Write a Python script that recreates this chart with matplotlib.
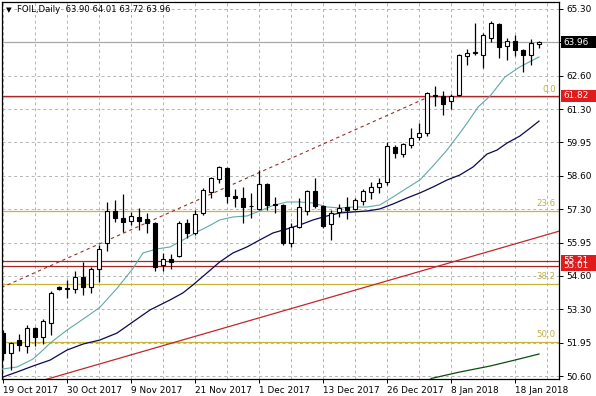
import numpy as np
import matplotlib
matplotlib.use("Agg")
import matplotlib.pyplot as plt
from matplotlib.patches import Rectangle
import matplotlib.transforms as mtransforms

plt.rcParams['font.family'] = ['DejaVu Sans']

# ---------------- data ----------------
OPEN = [52.32, 51.52, 52.04, 51.80, 52.52, 52.16, 52.72, 54.17, 54.11, 54.09,
        54.57, 54.17, 54.89, 55.93, 57.21, 56.93, 56.81, 56.97, 56.89, 56.73,
        55.05, 55.29, 55.41, 56.73, 56.33, 57.13, 57.97, 58.49, 58.93, 57.81,
        57.73, 57.39, 57.29, 58.29, 57.49, 57.45, 55.93, 56.57, 57.21, 58.01,
        57.41, 56.69, 57.17, 57.37, 57.29, 57.61, 57.97, 58.17, 58.37, 59.77,
        59.49, 59.85, 60.17, 60.33, 61.80, 61.82, 61.62, 61.86, 63.42, 63.52,
        63.46, 64.14, 64.70, 63.82, 64.02, 63.66, 63.46, 63.90]
HIGH = [52.44, 51.95, 52.28, 52.64, 52.56, 52.88, 54.01, 54.22, 54.45, 54.81,
        55.17, 54.97, 55.85, 57.57, 57.65, 57.89, 57.17, 57.33, 57.13, 56.78,
        55.53, 55.49, 56.81, 56.89, 57.25, 58.13, 58.57, 59.01, 58.97, 58.09,
        58.17, 57.93, 58.85, 58.33, 57.77, 57.49, 56.73, 57.73, 58.05, 58.53,
        57.45, 57.25, 57.49, 57.77, 57.73, 58.09, 58.37, 58.53, 59.97, 59.85,
        59.93, 60.53, 60.73, 61.98, 62.22, 62.02, 61.90, 63.49, 63.70, 64.74,
        64.34, 64.82, 64.72, 64.14, 64.26, 63.70, 64.10, 64.01]
LOW = [51.24, 50.84, 51.60, 51.52, 51.80, 51.88, 52.24, 54.05, 53.73, 53.93,
       53.85, 53.93, 54.37, 55.61, 56.77, 56.37, 56.65, 56.45, 56.33, 54.81,
       54.81, 54.89, 55.37, 56.13, 56.25, 57.05, 57.73, 58.33, 57.53, 57.37,
       56.73, 56.93, 57.25, 57.25, 57.13, 55.85, 55.77, 56.53, 57.05, 57.33,
       56.53, 56.05, 56.97, 56.89, 57.25, 57.45, 57.69, 57.93, 58.25, 59.33,
       59.37, 59.73, 60.05, 60.21, 61.40, 61.06, 61.30, 61.80, 63.06, 63.46,
       62.94, 63.98, 63.34, 63.26, 63.42, 62.78, 63.06, 63.72]
CLOSE = [51.52, 51.92, 51.84, 52.52, 52.16, 52.80, 53.93, 54.09, 54.07, 54.57,
         54.17, 54.89, 55.69, 57.21, 56.93, 56.77, 57.01, 56.81, 56.73, 54.97,
         55.29, 55.17, 56.73, 56.33, 57.09, 58.05, 58.53, 58.97, 57.81, 57.73,
         57.37, 57.41, 58.29, 57.45, 57.45, 55.93, 56.57, 57.37, 58.01, 57.41,
         56.61, 57.13, 57.33, 57.25, 57.65, 58.01, 58.17, 58.33, 59.81, 59.53,
         59.89, 60.13, 60.33, 61.94, 61.86, 61.50, 61.82, 63.45, 63.54, 63.56,
         64.26, 64.74, 63.78, 64.02, 63.66, 63.46, 63.94, 63.96]

DATE_LABELS = ["19 Oct 2017", "30 Oct 2017", "9 Nov 2017", "21 Nov 2017", "1 Dec 2017",
               "13 Dec 2017", "26 Dec 2017", "8 Jan 2018", "18 Jan 2018"]
DATE_BARS = [0, 8, 16, 24, 32, 40, 48, 56, 64]

# the 11th label sits under the last-price box and is not visible
Y_TICK_LABELS = ["50.60", "51.95", "53.30", "54.60", "55.95", "57.30",
                 "58.60", "59.95", "61.30", "62.60", "", "65.30"]

# moving averages (bar index, price)
MA_FAST_X = [-0.1, 1.75, 3.75, 5, 5.9, 8, 10.25, 12.1, 14.25, 16.25, 17.5, 19.25, 20.9,
             22.5, 24.25, 25.5, 27.1, 28.75, 30.5, 32.1, 33.75, 35.5, 37.1, 38.75, 40.5,
             42.1, 43.75, 45.5, 47.1, 48.75, 50.5, 52.1, 53.75, 55.5, 57.75, 59.4, 60.9,
             62.75, 64.6, 67]
MA_FAST_Y = [50.88, 50.96, 51.28, 51.64, 51.92, 52.44, 52.93, 53.35, 54.11, 54.91, 55.53,
             55.69, 55.77, 56.05, 56.37, 56.57, 56.85, 56.97, 57.01, 57.21, 57.43, 57.57,
             57.57, 57.53, 57.37, 57.33, 57.37, 57.37, 57.45, 57.77, 58.13, 58.45, 59.01,
             59.65, 60.61, 61.38, 61.82, 62.58, 62.98, 63.38]
MA_MID_X = [0, 1.75, 3.75, 5.9, 8, 10, 12.1, 14.25, 16.25, 18.4, 20.9, 22.5, 23.75, 25.5,
            27.1, 28.75, 30.5, 32.1, 33.75, 35.5, 37.1, 38.75, 40.5, 42.1, 43.75, 45.5,
            47.1, 48.75, 50.5, 52.1, 53.75, 55.5, 57.1, 58.75, 60.5, 61.75, 63, 64.6,
            65.9, 67]
MA_MID_Y = [50.56, 50.76, 51.00, 51.24, 51.64, 51.88, 52.04, 52.32, 52.77, 53.25, 53.65,
            53.93, 54.25, 54.73, 55.17, 55.53, 55.77, 56.05, 56.33, 56.49, 56.65, 56.85,
            57.01, 57.13, 57.17, 57.21, 57.29, 57.49, 57.73, 57.93, 58.17, 58.45, 58.65,
            58.97, 59.49, 59.65, 59.93, 60.21, 60.53, 60.81]
MA_SLOW_X = [53.5, 57.1, 60.9, 64, 67]
MA_SLOW_Y = [50.50, 50.76, 51.00, 51.24, 51.48]

FIB_LEVELS = [61.79, 57.20, 54.29, 51.95]
FIB_LABELS = ["0.0", "23.6", "38.2", "50.0"]
HLINES = [61.83, 55.21, 55.01]
TREND_X = [10, 60]
TREND_Y = [50.89, 55.52]
FIBDIAG_X = [-0.2, 53.5]
FIBDIAG_Y = [54.14, 61.82]
LAST_PRICE = 63.96

TITLE = "FOIL,Daily  63.90 64.01 63.72 63.96"

# ---------------- figure ----------------
W, H = 596, 396
fig = plt.figure(figsize=(W / 100, H / 100), dpi=100)
fig.patch.set_facecolor("white")
ax = fig.add_axes([2 / W, 17 / H, 557 / W, 377 / H])
ax.set_xlim(-0.125, 69.5)
ax.set_ylim(50.48, 65.58)
ax.set_facecolor("white")

FS = 5.8
grid_c = "#b4b4b4"
ytick_pos = np.linspace(50.60, 65.30, len(Y_TICK_LABELS))
for yv in ytick_pos:
    if abs(yv - LAST_PRICE) > 0.05:
        ax.axhline(yv, color=grid_c, lw=0.7, ls=(0, (3, 3)), zorder=0)
for xv in range(0, 70, 4):
    ax.axvline(xv, color=grid_c, lw=0.7, ls=(0, (3, 3)), zorder=0)

# last price line
ax.axhline(LAST_PRICE, color="#a8a8a8", lw=0.9, zorder=1)

# fib levels
fib_c = "#c8b53c"
for lv, lb in zip(FIB_LEVELS, FIB_LABELS):
    if lb == "0.0":
        ax.axhline(lv, color="#e9c79a", lw=1.6, zorder=1)
    else:
        ax.axhline(lv, color=fib_c, lw=0.9, zorder=1)
    ax.text(69.1, lv + 0.12, lb, color="#bfb04a", fontsize=FS + 0.4,
            ha="right", va="bottom", zorder=2)

# red horizontal lines
for lv in HLINES:
    ax.axhline(lv, color="#a8282a", lw=0.9, zorder=2)

# red trend line
tx = np.array([-1.0, 70.0])
slope = (TREND_Y[1] - TREND_Y[0]) / (TREND_X[1] - TREND_X[0])
ax.plot(tx, TREND_Y[0] + slope * (tx - TREND_X[0]), color="#c0282a", lw=0.9, zorder=2)

# fib diagonal dashed
ax.plot(FIBDIAG_X, FIBDIAG_Y, color="#9a3028", lw=0.8, ls=(0, (3, 3)), zorder=2)

# moving averages
ax.plot(MA_FAST_X, MA_FAST_Y, color="#62a8a8", lw=0.8, zorder=3)
ax.plot(MA_MID_X, MA_MID_Y, color="#0a0a50", lw=0.9, zorder=3)
ax.plot(MA_SLOW_X, MA_SLOW_Y, color="#0b4d0b", lw=0.9, zorder=3)

# candles
bw = 0.6
for i, (o, h, l, c) in enumerate(zip(OPEN, HIGH, LOW, CLOSE)):
    ax.vlines(i, l, h, color="black", lw=0.9, zorder=4)
    lo, hi = min(o, c), max(o, c)
    hgt = max(hi - lo, 0.03)
    fc = "white" if c >= o else "black"
    ax.add_patch(Rectangle((i - bw / 2, lo), bw, hgt, facecolor=fc,
                           edgecolor="black", lw=0.8, zorder=5))

# axes styling
for s in ["top", "left", "right", "bottom"]:
    ax.spines[s].set_color("black")
    ax.spines[s].set_linewidth(0.9)

ax.yaxis.tick_right()
ax.set_yticks(ytick_pos)
ax.set_yticklabels(Y_TICK_LABELS)
ax.tick_params(axis="y", direction="out", length=3, width=0.7, pad=2,
               labelsize=FS + 0.6, colors="black")
ax.set_xticks(DATE_BARS)
ax.set_xticklabels(DATE_LABELS)
for lbl in ax.get_xticklabels():
    lbl.set_horizontalalignment("left")
ax.tick_params(axis="x", direction="out", length=3, width=0.7, pad=2,
               labelsize=FS + 0.6, colors="black")

# price boxes on right axis
bt = mtransforms.blended_transform_factory(fig.transFigure, ax.transData)
ppu = 377 / (65.58 - 50.48)  # pixels per price unit


def price_box(val, txt, fc, hpx=12):
    hh = hpx / ppu
    r = Rectangle((561 / W, val - hh / 2), 36 / W, hh, transform=bt,
                  facecolor=fc, edgecolor="none", zorder=20, clip_on=False)
    fig.patches.append(r)
    fig.text(563 / W, val, txt, transform=bt, color="white", fontsize=FS + 0.6,
             va="center", ha="left", zorder=21)


price_box(LAST_PRICE, "63.96", "black")
price_box(61.82, "61.82", "#e01b1b")
price_box(55.21, "55.21", "#e01b1b", hpx=11)
price_box(55.01, "55.01", "#e01b1b", hpx=11)

# title
fig.text(6 / W, 1 - 10 / H, "\u25bc", fontsize=FS - 0.5, va="center", ha="left", color="black")
fig.text(17 / W, 1 - 10 / H, TITLE, fontsize=FS + 0.3, va="center", ha="left", color="black")

fig.savefig("out.png", dpi=100, facecolor="white")
